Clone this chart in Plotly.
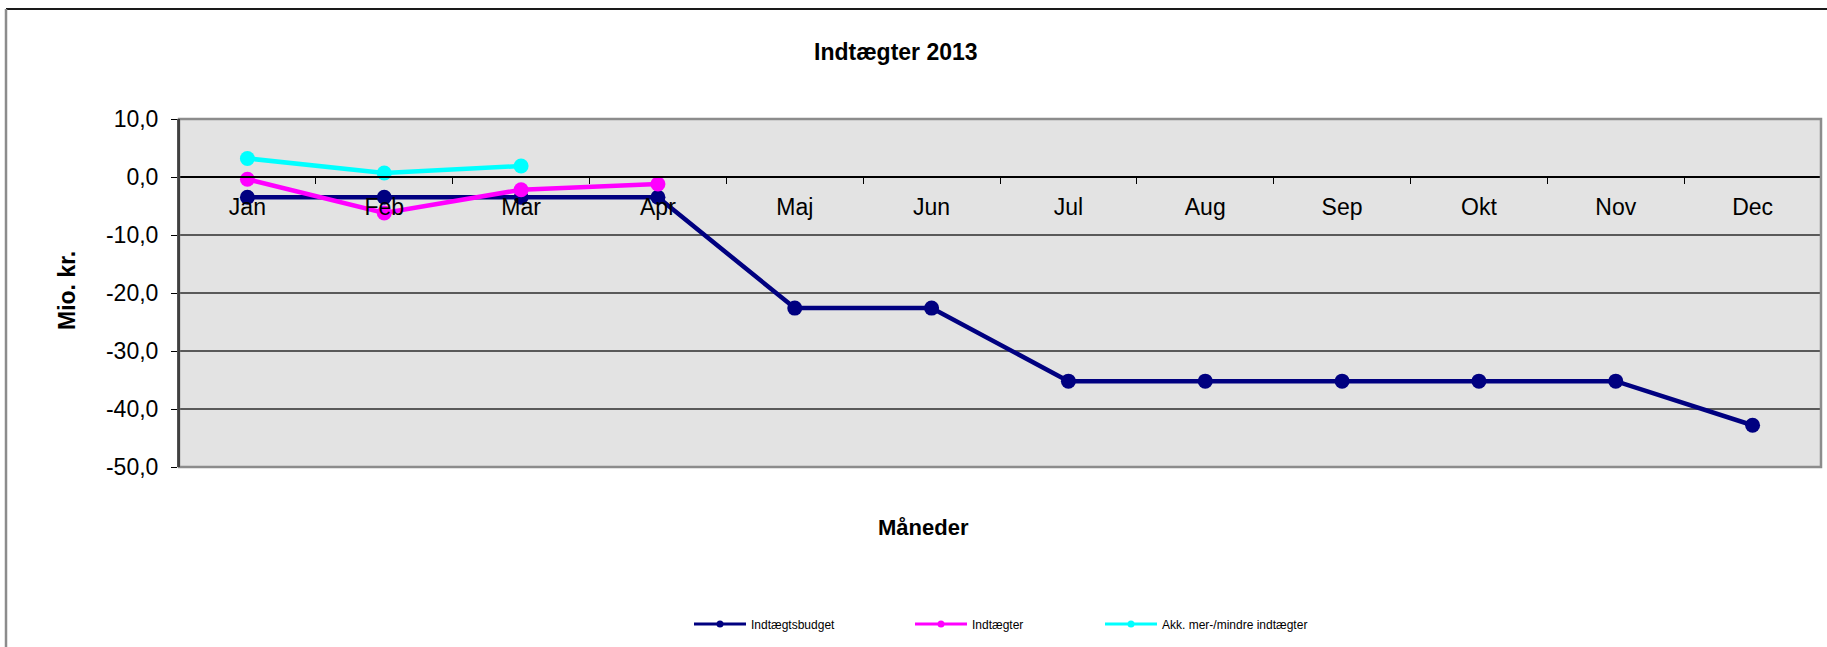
import plotly.graph_objects as go

months = ["Jan", "Feb", "Mar", "Apr", "Maj", "Jun", "Jul", "Aug", "Sep", "Okt", "Nov", "Dec"]
budget = [-3.5, -3.5, -3.5, -3.5, -22.6, -22.6, -35.2, -35.2, -35.2, -35.2, -35.2, -42.8]
indtaegter = [-0.4, -6.2, -2.2, -1.2]
akk = [3.2, 0.7, 1.9]
y_ticks = [-50, -40, -30, -20, -10, 0, 10]
y_tick_labels = ["-50,0", "-40,0", "-30,0", "-20,0", "-10,0", "0,0", "10,0"]

names = ["Indtægtsbudget", "Indtægter", "Akk. mer-/mindre indtægter"]
colors = ["#000080", "#FF00FF", "#00FFFF"]
series = [budget, indtaegter, akk]

FONT = "Liberation Sans, Arial, sans-serif"

fig = go.Figure()
for name, col, vals in zip(names, colors, series):
    fig.add_trace(go.Scatter(
        x=months[:len(vals)], y=vals, mode="lines+markers", name=name,
        line=dict(color=col, width=4.5), marker=dict(color=col, size=15),
        showlegend=False, cliponaxis=False))

legend_ids = ["legend", "legend2", "legend3"]
for name, col, lid in zip(names, colors, legend_ids):
    fig.add_trace(go.Scatter(
        x=[None], y=[None], mode="lines+markers", name=name,
        line=dict(color=col, width=3), marker=dict(color=col, size=7),
        showlegend=True, legend=lid))

L, R, T, B = 179, 6, 119, 180
W, H = 1827, 647
pw = W - L - R
ph = H - T - B

def px(xp):
    return (xp - L) / pw

def py(yp):
    return (H - B - yp) / ph

leg_x = [695, 916, 1106]
legend_common = dict(orientation="h", yanchor="middle", xanchor="left",
                     font=dict(family=FONT, size=12, color="#000"),
                     bgcolor="rgba(0,0,0,0)", itemwidth=52)
layout_legends = {}
for lid, lx in zip(legend_ids, leg_x):
    layout_legends[lid] = dict(legend_common, x=px(lx - 6), y=py(624))

fig.update_layout(
    width=W, height=H,
    margin=dict(l=L, r=R, t=T, b=B, autoexpand=False),
    paper_bgcolor="white", plot_bgcolor="#E3E3E3",
    font=dict(family=FONT, size=22, color="#000"),
    **layout_legends,
)

fig.update_xaxes(
    type="category", categoryorder="array", categoryarray=months,
    range=[-0.5, 11.5], anchor="free", position=50 / 60,
    showgrid=False, showline=True, linecolor="#000", linewidth=1.5,
    ticks="outside", tickson="boundaries", ticklen=6, tickcolor="#000",
    tickfont=dict(family=FONT, size=23, color="#000"),
    ticklabelstandoff=10, zeroline=False,
)
fig.update_yaxes(
    range=[-50, 10], tickvals=y_ticks, ticktext=y_tick_labels,
    showgrid=True, gridcolor="#5a5a5a", gridwidth=1.5,
    zeroline=False, showline=True, linecolor="#404040", linewidth=2,
    ticks="outside", ticklen=6, tickcolor="#000",
    tickfont=dict(family=FONT, size=23, color="#000"),
    ticklabelstandoff=8,
)

# plot frame
fig.add_shape(type="rect", xref="x domain", yref="y domain", x0=0, x1=1, y0=0, y1=1,
              line=dict(color="#8c8c8c", width=2.5), layer="above")
fig.add_shape(type="line", xref="x domain", yref="y domain", x0=0, x1=0, y0=0, y1=1,
              line=dict(color="#404040", width=2), layer="above")
# outer chart border (top and left visible)
fig.add_shape(type="line", xref="paper", yref="paper", x0=px(6), x1=px(1830), y0=py(9), y1=py(9),
              line=dict(color="#1a1a1a", width=2))
fig.add_shape(type="line", xref="paper", yref="paper", x0=px(6), x1=px(6), y0=py(9), y1=py(650),
              line=dict(color="#8c8c8c", width=2.5))

ann = dict(xref="paper", yref="paper", showarrow=False, xanchor="center", yanchor="middle")
fig.add_annotation(text="<b>Indtægter 2013</b>", x=px(896), y=py(52),
                   font=dict(family=FONT, size=23, color="#000"), **ann)
fig.add_annotation(text="<b>Mio. kr.</b>", x=px(67), y=py(291), textangle=-90,
                   font=dict(family=FONT, size=23, color="#000"), **ann)
fig.add_annotation(text="<b>Måneder</b>", x=px(923), y=py(527),
                   font=dict(family=FONT, size=22, color="#000"), **ann)

fig.write_html("out.html", config={"displayModeBar": False},
               post_script="document.body.style.margin='0';")
